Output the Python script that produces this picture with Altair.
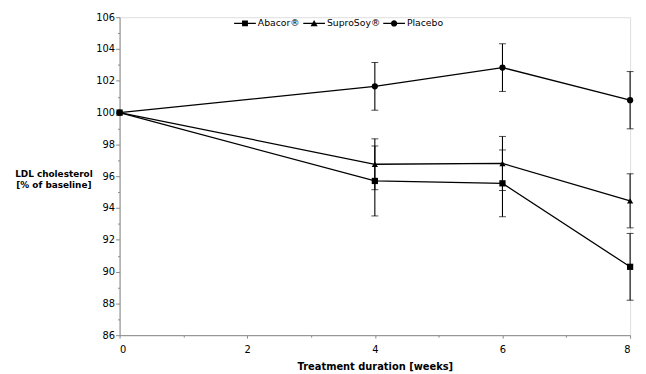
import altair as alt
import pandas as pd

weeks = [0, 4, 6, 8]
series = ["Abacor®", "SuproSoy®", "Placebo"]
abacor = [100.0, 95.7, 95.55, 90.3]
abacor_err = [0.0, 2.2, 2.1, 2.1]
suprosoy = [100.0, 96.75, 96.8, 94.45]
suprosoy_err = [0.0, 1.6, 1.7, 1.7]
placebo = [100.0, 101.65, 102.83, 100.78]
placebo_err = [0.0, 1.5, 1.5, 1.8]
y_ticks = [86, 88, 90, 92, 94, 96, 98, 100, 102, 104, 106]
y_minor = [87, 89, 91, 93, 95, 97, 99, 101, 103, 105]
x_ticks = [0, 2, 4, 6, 8]
x_minor = [1, 3, 5, 7]

rows = []
for name, vals, errs, order in [("Placebo", placebo, placebo_err, 0),
                                ("SuproSoy®", suprosoy, suprosoy_err, 1),
                                ("Abacor®", abacor, abacor_err, 2)]:
    for w, v, e in zip(weeks, vals, errs):
        rows.append({"series": name, "week": w, "value": v,
                     "lo": v - e, "hi": v + e, "has_err": e > 0, "ord": order})
df = pd.DataFrame(rows)

FONT = "DejaVu Sans"
ytitle = ["LDL cholesterol", "[% of baseline]"]

y_axis = alt.Axis(values=y_ticks, title=ytitle, titleAngle=0, titleX=-67, titleY=158,
                  titleAlign="center", titleBaseline="middle", titleFontSize=9,
                  titleFontWeight="bold", titleLineHeight=11,
                  labelFontSize=10, tickSize=4, labelPadding=1, grid=False,
                  domainColor="#888", tickColor="#888", labelColor="black")
y_scale = alt.Scale(domain=[86, 106], nice=False, zero=False)
x_axis = alt.Axis(values=x_ticks, title="Treatment duration [weeks]", titleFontSize=10,
                  titleFontWeight="bold", titlePadding=7, labelFontSize=10, tickSize=3,
                  labelPadding=7, grid=False, domainColor="#888", tickColor="#888",
                  labelAngle=0, format="d")
x_scale = alt.Scale(domain=[0, 8], nice=False)

base = alt.Chart(df)

lines = base.mark_line(color="black", strokeWidth=1.3).encode(
    x=alt.X("week:Q", scale=x_scale, axis=x_axis),
    y=alt.Y("value:Q", scale=y_scale, axis=y_axis),
    detail="series:N",
)

minor = base.transform_filter("datum.week > 100").mark_point(opacity=0).encode(
    x=alt.X("week:Q", scale=x_scale,
            axis=alt.Axis(values=x_minor, labels=False, title=None, domain=False,
                          tickSize=2, grid=False, orient="bottom", tickColor="#888")),
    y=alt.Y("value:Q", scale=y_scale,
            axis=alt.Axis(values=y_minor, labels=False, title=None, domain=False,
                          tickSize=2, grid=False, orient="left", tickColor="#888")),
)

errs = base.transform_filter("datum.has_err").mark_errorbar(
    ticks={"size": 7, "color": "black", "strokeWidth": 1.1},
    rule={"color": "black", "strokeWidth": 1.1},
).encode(
    x=alt.X("week:Q", scale=x_scale, axis=None),
    y=alt.Y("lo:Q", scale=y_scale, axis=None),
    y2="hi:Q",
)

points = base.mark_point(filled=True, color="black", opacity=1, size=40).encode(
    x=alt.X("week:Q", scale=x_scale, axis=None),
    y=alt.Y("value:Q", scale=y_scale, axis=None),
    shape=alt.Shape("series:N", scale=alt.Scale(domain=series,
                    range=["square", "triangle-up", "circle"]), legend=None),
    order=alt.Order("ord:Q"),
)

leg_paths = [
    "M-1,-0.06H1V0.06H-1ZM-0.27,-0.27H0.27V0.27H-0.27Z",
    "M-1,-0.06H1V0.06H-1ZM0,-0.32L0.33,0.25H-0.33Z",
    "M-1,-0.06H1V0.06H-1ZM0.29,0A0.29,0.29 0 1,1 -0.29,0A0.29,0.29 0 1,1 0.29,0Z",
]
legend_layer = base.transform_filter("datum.week > 100").mark_point(
    filled=True, color="black", opacity=1
).encode(
    x=alt.X("week:Q", scale=x_scale, axis=None),
    y=alt.Y("value:Q", scale=y_scale, axis=None),
    shape=alt.Shape("series:N", scale=alt.Scale(domain=series, range=leg_paths),
                    legend=alt.Legend(title=None, orient="none", direction="horizontal",
                                      legendX=116, legendY=-5, symbolSize=484,
                                      labelFontSize=9.4, labelOffset=2, columnPadding=3,
                                      symbolFillColor="black", symbolStrokeWidth=0,
                                      labelColor="black", labelFont=FONT)),
)

chart = alt.layer(lines, minor, errs, points, legend_layer).resolve_scale(
    shape="independent"
).resolve_axis(x="independent", y="independent").properties(
    width=517, height=322,
    autosize=alt.AutoSizeParams(type="none"),
    padding={"left": 113, "top": 7, "right": 8, "bottom": 37},
    background="white",
).configure_view(stroke=None).configure(font=FONT)

chart.save("out.html", embed_options={"renderer": "svg", "actions": False})
